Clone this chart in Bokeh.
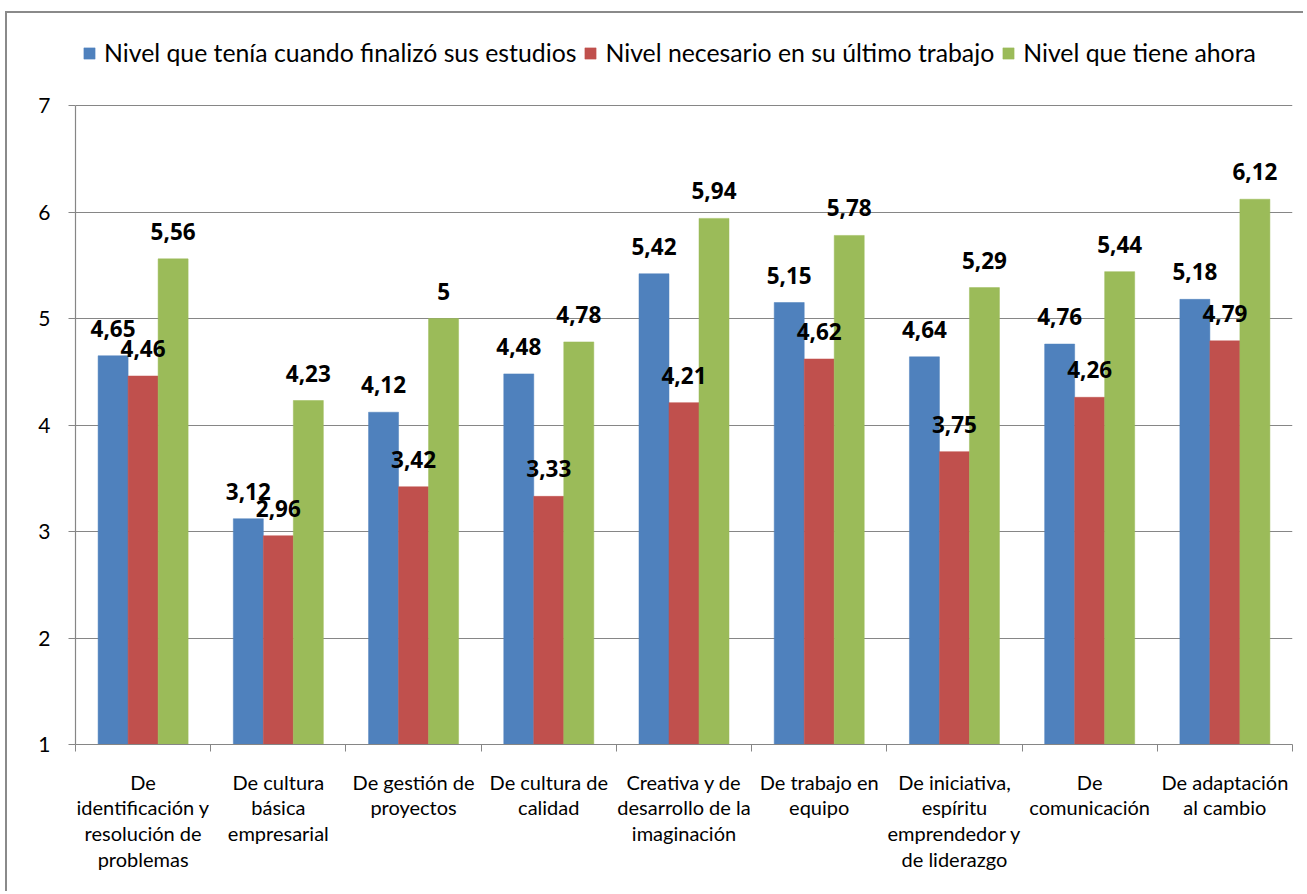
from bokeh.plotting import figure
from bokeh.models import (ColumnDataSource, FixedTicker, Legend, LegendItem, LabelSet, Range1d)
from bokeh.core.properties import value
from bokeh.embed import file_html
from bokeh.resources import INLINE

categories = [
    "De\nidentificación y\nresolución de\nproblemas",
    "De cultura\nbásica\nempresarial",
    "De gestión de\nproyectos",
    "De cultura de\ncalidad",
    "Creativa y de\ndesarrollo de la\nimaginación",
    "De trabajo en\nequipo",
    "De iniciativa,\nespíritu\nemprendedor y\nde liderazgo",
    "De\ncomunicación",
    "De adaptación\nal cambio",
]
series_names = [
    "Nivel que tenía cuando finalizó sus estudios",
    "Nivel necesario en su último trabajo",
    "Nivel que tiene ahora",
]
nivel_fin_estudios = [4.65, 3.12, 4.12, 4.48, 5.42, 5.15, 4.64, 4.76, 5.18]
nivel_ultimo_trabajo = [4.46, 2.96, 3.42, 3.33, 4.21, 4.62, 3.75, 4.26, 4.79]
nivel_ahora = [5.56, 4.23, 5.00, 4.78, 5.94, 5.78, 5.29, 5.44, 6.12]
y_ticks = [1, 2, 3, 4, 5, 6, 7]
colors = ["#4F81BD", "#C0504D", "#9BBB59"]

FONT = "Lato"
BOLD_FONT = "Open Sans"
n = len(categories)
bar_w = 30 / 135.2

# frame extends above the value 7 so the legend (drawn inside the frame) is not clipped
y_top = 7 + 82 / 106.5

p = figure(width=1298, height=880, output_backend="svg", toolbar_location=None,
           x_range=Range1d(0, n), y_range=Range1d(1, y_top),
           min_border_left=68, min_border_right=13, min_border_top=10, min_border_bottom=149)
p.styles = {"margin-left": "5px", "margin-top": "11px",
            "border-left": "2px solid #8a8a8a", "border-top": "2px solid #8a8a8a"}
p.outline_line_color = None
p.background_fill_color = "white"
p.border_fill_color = "white"

centers = [i + 0.5 for i in range(n)]
items = []
for k, (vals, name) in enumerate(zip([nivel_fin_estudios, nivel_ultimo_trabajo, nivel_ahora], series_names)):
    xs = [c + (k - 1) * bar_w for c in centers]
    src = ColumnDataSource(dict(
        x=xs, top=vals, bottom=[1] * n,
        label=[f"{v:g}".replace(".", ",") for v in vals]))
    r = p.vbar(x="x", top="top", bottom="bottom", width=bar_w, source=src,
               fill_color=colors[k], line_color=colors[k], line_width=0.5)
    items.append(LegendItem(label=name, renderers=[r]))
    labels = LabelSet(x="x", y="top", text="label", source=src, y_offset=19,
                      text_align="center", text_baseline="alphabetic",
                      text_font=value(BOLD_FONT), text_font_style="bold",
                      text_font_size="22.5px", text_color="black")
    p.add_layout(labels)

legend = Legend(items=items, orientation="horizontal", location=(7, 677),
                glyph_width=14, glyph_height=14, label_standoff=8, spacing=7,
                padding=0, margin=0, border_line_color=None, background_fill_alpha=0,
                label_text_font=FONT, label_text_font_size="24.8px", label_text_color="black")
p.add_layout(legend, "center")

# grid
p.xgrid.grid_line_color = None
p.ygrid.ticker = FixedTicker(ticks=y_ticks)
p.ygrid.grid_line_color = "#868686"
p.ygrid.grid_line_width = 1.2

# y axis
p.yaxis.ticker = FixedTicker(ticks=y_ticks)
p.yaxis.bounds = (1, 7)
p.yaxis.axis_line_color = "#868686"
p.yaxis.axis_line_width = 1.2
p.yaxis.major_tick_line_color = "#868686"
p.yaxis.major_tick_out = 7
p.yaxis.major_tick_in = 0
p.yaxis.minor_tick_line_color = None
p.yaxis.major_label_text_font = FONT
p.yaxis.major_label_text_font_size = "21px"
p.yaxis.major_label_text_color = "black"
p.yaxis.major_label_standoff = 18

# x axis
p.xaxis.ticker = FixedTicker(ticks=centers, minor_ticks=list(range(n + 1)))
p.xaxis.major_label_overrides = {c: lab for c, lab in zip(centers, categories)}
p.xaxis.axis_line_color = "#868686"
p.xaxis.axis_line_width = 1.2
p.xaxis.major_tick_line_color = None
p.xaxis.minor_tick_line_color = "#868686"
p.xaxis.minor_tick_out = 7
p.xaxis.minor_tick_in = 0
p.xaxis.major_label_text_font = FONT
p.xaxis.major_label_text_font_size = "20px"
p.xaxis.major_label_text_color = "black"
p.xaxis.major_label_text_line_height = 1.07
p.xaxis.major_label_standoff = 18

open("out.html", "w").write(file_html(p, INLINE))
